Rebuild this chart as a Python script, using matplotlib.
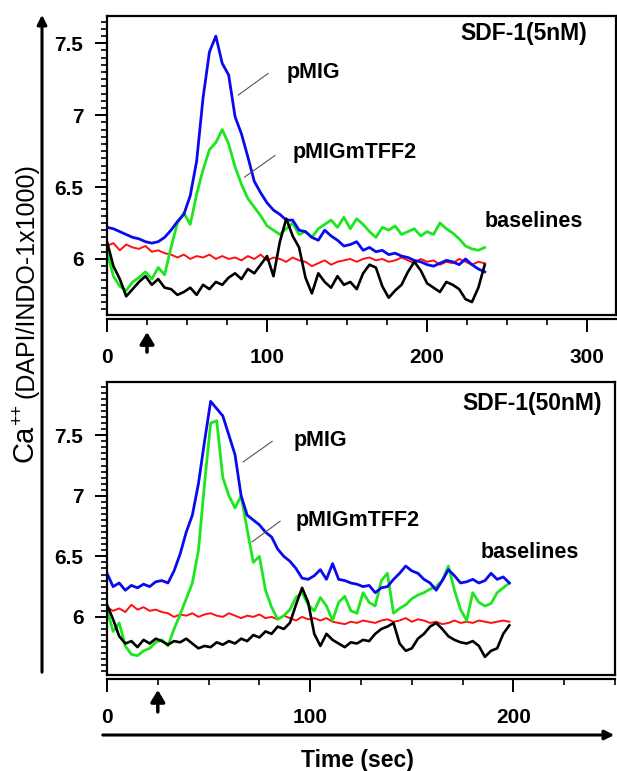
import numpy as np
import matplotlib.pyplot as plt
from matplotlib.ticker import MultipleLocator, FixedLocator, FuncFormatter

plt.rcParams['font.family'] = ['Liberation Sans', 'DejaVu Sans']
plt.rcParams['font.weight'] = 'bold'

# ---- top panel: SDF-1 (5nM), sampled every 4 s ----
t_top = np.arange(0, 240, 4)
blue_top = [6.22, 6.21, 6.19, 6.17, 6.15, 6.14, 6.12, 6.11, 6.12, 6.15,
            6.20, 6.26, 6.31, 6.44, 6.68, 7.12, 7.44, 7.55, 7.36, 7.28,
            6.99, 6.87, 6.71, 6.54, 6.46, 6.39, 6.34, 6.31, 6.27, 6.27,
            6.20, 6.19, 6.15, 6.13, 6.20, 6.16, 6.13, 6.09, 6.10, 6.12,
            6.06, 6.08, 6.05, 6.06, 6.03, 6.04, 6.02, 6.01, 5.99, 5.98,
            5.96, 5.95, 5.97, 5.99, 5.98, 5.96, 6.00, 5.96, 5.93, 5.91]
green_top = [6.05, 5.88, 5.81, 5.78, 5.84, 5.87, 5.91, 5.86, 5.94, 5.89,
             6.08, 6.25, 6.32, 6.24, 6.45, 6.62, 6.76, 6.81, 6.90, 6.80,
             6.64, 6.52, 6.42, 6.36, 6.30, 6.23, 6.20, 6.17, 6.21, 6.25,
             6.17, 6.19, 6.15, 6.21, 6.24, 6.27, 6.22, 6.29, 6.21, 6.28,
             6.24, 6.19, 6.15, 6.22, 6.20, 6.23, 6.17, 6.19, 6.21, 6.16,
             6.19, 6.17, 6.25, 6.21, 6.18, 6.14, 6.09, 6.07, 6.06, 6.08]
red_top = [6.09, 6.11, 6.06, 6.10, 6.08, 6.07, 6.09, 6.05, 6.06, 6.04,
           6.03, 6.01, 6.03, 6.00, 6.02, 6.01, 6.03, 6.00, 6.02, 6.00,
           6.01, 5.99, 6.02, 6.00, 6.03, 5.99, 6.01, 6.00, 5.98, 6.01,
           5.99, 5.98, 5.95, 5.97, 5.99, 5.96, 5.98, 5.99, 6.00, 5.98,
           6.00, 6.01, 5.99, 6.00, 5.98, 5.99, 6.01, 5.99, 5.97, 6.00,
           5.98, 5.99, 5.96, 5.98, 5.97, 6.00, 5.98, 5.96, 5.98, 5.97]
black_top = [6.12, 5.95, 5.86, 5.74, 5.79, 5.84, 5.88, 5.82, 5.86, 5.80,
             5.79, 5.75, 5.77, 5.80, 5.75, 5.82, 5.79, 5.84, 5.82, 5.87,
             5.90, 5.86, 5.93, 5.90, 5.96, 6.02, 5.88, 6.12, 6.28, 6.16,
             6.08, 5.87, 5.76, 5.90, 5.84, 5.80, 5.88, 5.82, 5.84, 5.79,
             5.90, 5.96, 5.94, 5.81, 5.73, 5.78, 5.82, 5.91, 5.98, 5.92,
             5.83, 5.80, 5.77, 5.84, 5.82, 5.79, 5.72, 5.70, 5.80, 5.96]

# ---- bottom panel: SDF-1 (50nM), sampled every 3 s ----
t_bot = np.arange(0, 201, 3)
blue_bot = [6.36, 6.25, 6.28, 6.22, 6.26, 6.24, 6.27, 6.25, 6.29, 6.30,
            6.28, 6.38, 6.52, 6.70, 6.84, 7.10, 7.45, 7.78, 7.72, 7.66,
            7.50, 7.34, 7.00, 6.84, 6.80, 6.76, 6.70, 6.66, 6.56, 6.50,
            6.46, 6.40, 6.32, 6.31, 6.34, 6.39, 6.31, 6.44, 6.31, 6.30,
            6.28, 6.27, 6.25, 6.26, 6.20, 6.24, 6.25, 6.31, 6.36, 6.42,
            6.38, 6.36, 6.31, 6.28, 6.22, 6.30, 6.39, 6.34, 6.28, 6.29,
            6.31, 6.28, 6.30, 6.36, 6.31, 6.33, 6.28]
green_bot = [6.06, 5.88, 5.95, 5.76, 5.69, 5.68, 5.72, 5.74, 5.79, 5.81,
             5.76, 5.90, 6.02, 6.15, 6.28, 6.55, 7.10, 7.60, 7.62, 7.15,
             7.00, 6.90, 7.00, 6.72, 6.45, 6.50, 6.22, 6.08, 5.98, 6.01,
             6.06, 6.16, 6.20, 6.10, 6.05, 6.16, 6.09, 5.97, 6.12, 6.17,
             6.05, 6.03, 6.20, 6.12, 6.09, 6.30, 6.36, 6.03, 6.07, 6.10,
             6.15, 6.18, 6.20, 6.23, 6.25, 6.30, 6.42, 6.22, 6.06, 5.97,
             6.20, 6.12, 6.09, 6.11, 6.20, 6.24, 6.28]
red_bot = [6.08, 6.05, 6.07, 6.04, 6.10, 6.06, 6.08, 6.05, 6.06, 6.04,
           6.03, 6.00, 6.02, 6.01, 6.03, 6.00, 6.02, 6.03, 6.01, 6.00,
           6.03, 6.01, 5.99, 6.01, 6.00, 6.02, 5.99, 6.00, 5.98, 6.01,
           5.99, 5.97, 6.00, 5.98, 5.99, 5.97, 5.99, 5.96, 5.95, 5.94,
           5.96, 5.95, 5.97, 5.96, 5.95, 5.97, 5.98, 5.96, 5.97, 5.99,
           5.96, 5.98, 5.97, 5.95, 5.96, 5.94, 5.95, 5.97, 5.95, 5.96,
           5.95, 5.97, 5.96, 5.95, 5.96, 5.97, 5.96]
black_bot = [6.10, 5.98, 5.84, 5.78, 5.80, 5.75, 5.81, 5.78, 5.82, 5.80,
             5.77, 5.80, 5.79, 5.82, 5.78, 5.74, 5.76, 5.75, 5.79, 5.77,
             5.80, 5.78, 5.82, 5.80, 5.85, 5.83, 5.88, 5.86, 5.92, 5.90,
             5.95, 6.10, 6.24, 6.12, 5.86, 5.76, 5.86, 5.81, 5.78, 5.75,
             5.79, 5.78, 5.81, 5.80, 5.86, 5.90, 5.92, 5.95, 5.78, 5.72,
             5.74, 5.82, 5.86, 5.92, 5.95, 5.90, 5.84, 5.81, 5.79, 5.78,
             5.80, 5.76, 5.67, 5.72, 5.74, 5.86, 5.93]

stim_time = 25
colors = {'blue': '#0a0aee', 'green': '#1ee61e', 'red': '#ff1010', 'black': '#000000'}


def style_axes(ax, xmax, ylo, yhi):
    ax.set_xlim(0, xmax)
    ax.set_ylim(ylo, yhi)
    for s in ax.spines.values():
        s.set_linewidth(1.6)
    # x axis sits a little below the box
    ax.spines['bottom'].set_position(('outward', 3))
    ax.axhline(ylo, color='k', lw=1.6, clip_on=False)
    ax.xaxis.set_major_locator(MultipleLocator(100))
    ax.xaxis.set_minor_locator(MultipleLocator(25))
    ax.yaxis.set_major_locator(FixedLocator([6, 6.5, 7, 7.5]))
    ax.yaxis.set_minor_locator(MultipleLocator(0.05))
    ax.yaxis.set_major_formatter(FuncFormatter(lambda v, p: f"{v:g}"))
    ax.tick_params(which='major', direction='out', length=9, width=1.4, labelsize=15)
    ax.tick_params(which='minor', direction='out', length=4, width=1.2)
    ax.tick_params(axis='x', which='major', pad=12)
    ax.tick_params(axis='y', which='major', pad=8)


fig = plt.figure(figsize=(6.17, 7.71), dpi=100)
ax1 = fig.add_axes([107 / 617, 1 - 315 / 771, 509 / 617, 299 / 771])
ax2 = fig.add_axes([107 / 617, 1 - 675 / 771, 508 / 617, 293 / 771])

for ax, t, g, b, r, k in [(ax1, t_top, green_top, blue_top, red_top, black_top),
                          (ax2, t_bot, green_bot, blue_bot, red_bot, black_bot)]:
    ax.plot(t, r, color=colors['red'], lw=1.4)
    ax.plot(t, g, color=colors['green'], lw=2.0)
    ax.plot(t, b, color=colors['blue'], lw=2.0)
    ax.plot(t, k, color=colors['black'], lw=1.9)

style_axes(ax1, 318, 5.61, 7.69)
style_axes(ax2, 250, 5.52, 7.94)

# labels and pointer lines
ax1.plot([82, 100.6], [7.14, 7.29], color='#555555', lw=0.8)
ax1.text(112.5, 7.30, 'pMIG', fontsize=15.5, va='center')
ax1.plot([86, 105], [6.57, 6.72], color='#555555', lw=0.8)
ax1.text(116, 6.74, 'pMIGmTFF2', fontsize=15.5, va='center')
ax1.text(236, 6.26, 'baselines', fontsize=15.5, va='center')
ax1.text(0.943, 0.943, 'SDF-1(5nM)', fontsize=16.5, ha='right', va='center', transform=ax1.transAxes)

ax2.plot([67, 81.3], [7.28, 7.45], color='#555555', lw=0.8)
ax2.text(91.6, 7.46, 'pMIG', fontsize=15.5, va='center')
ax2.plot([71.4, 85.2], [6.62, 6.79], color='#555555', lw=0.8)
ax2.text(92.6, 6.80, 'pMIGmTFF2', fontsize=15.5, va='center')
ax2.text(183.7, 6.53, 'baselines', fontsize=15.5, va='center')
ax2.text(0.974, 0.928, 'SDF-1(50nM)', fontsize=16.5, ha='right', va='center', transform=ax2.transAxes)

# stimulus arrows under the time axis
for ax, y0, y1 in [(ax1, -0.124, -0.057), (ax2, -0.126, -0.051)]:
    ax.annotate('', xy=(stim_time, y1), xycoords=('data', 'axes fraction'),
                xytext=(stim_time, y0), textcoords=('data', 'axes fraction'),
                arrowprops=dict(arrowstyle='-|>,head_width=0.3,head_length=0.5',
                                color='k', lw=2.5, mutation_scale=14,
                                shrinkA=0, shrinkB=0),
                annotation_clip=False)

# long axis arrows
ax1.annotate('', xy=(42 / 617, 1 - 12 / 771), xycoords='figure fraction',
             xytext=(42 / 617, 1 - 675 / 771), textcoords='figure fraction',
             arrowprops=dict(arrowstyle='-|>', color='k', lw=2.2, mutation_scale=14),
             annotation_clip=False)
ax1.annotate('', xy=(617 / 617, 1 - 735 / 771), xycoords='figure fraction',
             xytext=(100 / 617, 1 - 735 / 771), textcoords='figure fraction',
             arrowprops=dict(arrowstyle='-|>', color='k', lw=2.2, mutation_scale=14),
             annotation_clip=False)

fig.text(357 / 617, 1 - 760 / 771, 'Time (sec)', fontsize=16.5, ha='center', va='center')

# y label, three pieces
fig.text(33 / 617, 1 - 462 / 771, 'Ca', fontsize=21, fontweight='normal', rotation=90,
         rotation_mode='anchor', ha='left', va='baseline')
fig.text(22 / 617, 1 - 425 / 771, '++', fontsize=13, fontweight='normal', rotation=90,
         rotation_mode='anchor', ha='left', va='baseline')
fig.text(33 / 617, 1 - 398 / 771, '(DAPI/INDO-1x1000)', fontsize=18, fontweight='normal',
         rotation=90, rotation_mode='anchor', ha='left', va='baseline')

fig.savefig('out.png', dpi=100)
